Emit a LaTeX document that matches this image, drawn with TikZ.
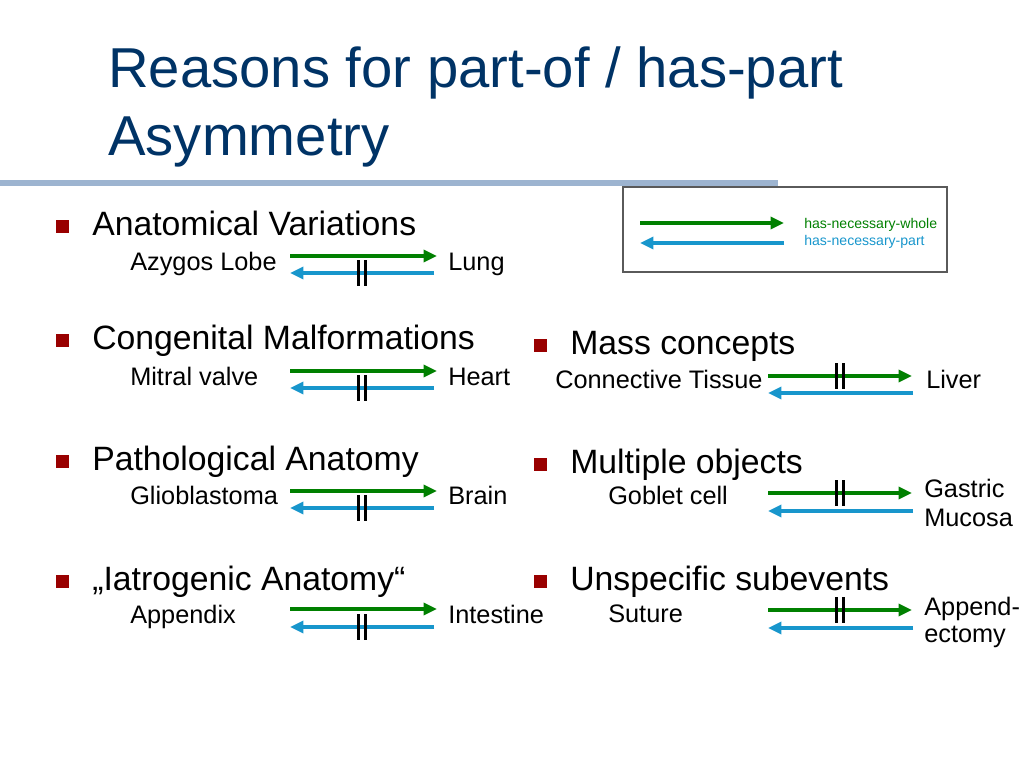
\documentclass[tikz,border=0pt]{standalone}
\usepackage{fontspec}
\setmainfont{Liberation Sans}
\usetikzlibrary{arrows.meta}

\definecolor{titleblue}{RGB}{0,51,102}
\definecolor{barblue}{RGB}{157,180,208}
\definecolor{bulletred}{RGB}{153,0,0}
\definecolor{wholegreen}{RGB}{0,128,0}
\definecolor{partblue}{RGB}{24,150,204}
\definecolor{keygray}{RGB}{90,90,90}

\begin{document}
\begin{tikzpicture}[
  x=0.025cm, y=-0.025cm,
  title/.style={anchor=base west, inner sep=0pt, text=titleblue,
    font=\fontsize{40}{48}\selectfont},
  head/.style={anchor=base west, inner sep=0pt, font=\fontsize{24}{29}\selectfont},
  item/.style={anchor=base west, inner sep=0pt, font=\fontsize{18}{22}\selectfont},
  key/.style={anchor=base west, inner sep=0pt, font=\fontsize{10}{12}\selectfont},
  bullet/.style={fill=bulletred, inner sep=0pt, minimum size=9.2pt, anchor=south west},
  legendbox/.style={draw=keygray, line width=0.9pt, minimum width=8.1cm, minimum height=2.125cm},
  whole/.style={draw=wholegreen, line width=2.6pt, -{Triangle[length=9.5pt,width=8.5pt]}},
  part/.style={whole, draw=partblue},
  cut/.style={inner sep=0pt, minimum width=7pt, minimum height=18pt,
    path picture={
      \draw[line width=2.4pt] ([xshift=1.2pt]path picture bounding box.north west)
        -- ([xshift=1.2pt]path picture bounding box.south west);
      \draw[line width=2.4pt] ([xshift=-1.2pt]path picture bounding box.north east)
        -- ([xshift=-1.2pt]path picture bounding box.south east);
    }}
]
\useasboundingbox (0,0) rectangle (1024,768);

% title
\node[title] (title1) at (108,88) {Reasons for part-of / has-part};
\node[title] (title2) at (108,155) {Asymmetry};
\draw[barblue, line width=4.3pt] (0,183) -- (778,183);

% legend
\node[legendbox] (legend) at (785,229.5) {};
\coordinate (key-gs) at (640,223);
\coordinate (key-ge) at (784,223);
\coordinate (key-bs) at (784,243);
\coordinate (key-be) at (640,243);
\draw[whole] (key-gs) -- (key-ge);
\draw[part] (key-bs) -- (key-be);
\node[key, text=wholegreen] (kwhole) at (804,228) {has-necessary-whole};
\node[key, text=partblue] (kpart) at (804,245) {has-necessary-part};

% left column
\node[bullet] (b1) at (56,233) {};
\node[head] (avar) at (92,235) {Anatomical Variations};
\node[item] (azygos) at (130,270) {Azygos Lobe};
\node[item] (lung) at (448,270) {Lung};
\coordinate (av-gs) at (290,256);
\coordinate (av-ge) at (437,256);
\coordinate (av-bs) at (434,273);
\coordinate (av-be) at (290,273);
\draw[whole] (av-gs) -- (av-ge);
\draw[part] (av-bs) -- (av-be);
\node[cut] (av-cut) at (362,273) {};

\node[bullet] (b2) at (56,347) {};
\node[head] (congen) at (92,349) {Congenital Malformations};
\node[item] (mitral) at (130,385) {Mitral valve};
\node[item] (heart) at (448,385) {Heart};
\coordinate (cm-gs) at (290,371);
\coordinate (cm-ge) at (437,371);
\coordinate (cm-bs) at (434,388);
\coordinate (cm-be) at (290,388);
\draw[whole] (cm-gs) -- (cm-ge);
\draw[part] (cm-bs) -- (cm-be);
\node[cut] (cm-cut) at (362,388) {};

\node[bullet] (b3) at (56,468) {};
\node[head] (patho) at (92,470) {Pathological Anatomy};
\node[item] (glio) at (130,504) {Glioblastoma};
\node[item] (brain) at (448,504) {Brain};
\coordinate (pa-gs) at (290,491);
\coordinate (pa-ge) at (437,491);
\coordinate (pa-bs) at (434,508);
\coordinate (pa-be) at (290,508);
\draw[whole] (pa-gs) -- (pa-ge);
\draw[part] (pa-bs) -- (pa-be);
\node[cut] (pa-cut) at (362,508) {};

\node[bullet] (b4) at (56,588) {};
\node[head] (iatro) at (92,590) {„Iatrogenic Anatomy“};
\node[item] (appendix) at (130,623) {Appendix};
\node[item] (intestine) at (448,623) {Intestine};
\coordinate (ia-gs) at (290,609);
\coordinate (ia-ge) at (437,609);
\coordinate (ia-bs) at (434,627);
\coordinate (ia-be) at (290,627);
\draw[whole] (ia-gs) -- (ia-ge);
\draw[part] (ia-bs) -- (ia-be);
\node[cut] (ia-cut) at (362,627) {};

% right column
\node[bullet] (b5) at (534,352) {};
\node[head] (mass) at (570,354) {Mass concepts};
\node[item] (connective) at (555,388) {Connective Tissue};
\node[item] (liver) at (926,388) {Liver};
\coordinate (mc-gs) at (768,376);
\coordinate (mc-ge) at (912,376);
\coordinate (mc-bs) at (913,393);
\coordinate (mc-be) at (768,393);
\draw[whole] (mc-gs) -- (mc-ge);
\draw[part] (mc-bs) -- (mc-be);
\node[cut] (mc-cut) at (840,376) {};

\node[bullet] (b6) at (534,471) {};
\node[head] (multiple) at (570,473) {Multiple objects};
\node[item] (goblet) at (608,504) {Goblet cell};
\node[item] (gastric) at (924,497) {Gastric};
\node[item] (mucosa) at (924,526) {Mucosa};
\coordinate (mo-gs) at (768,493);
\coordinate (mo-ge) at (912,493);
\coordinate (mo-bs) at (913,511);
\coordinate (mo-be) at (768,511);
\draw[whole] (mo-gs) -- (mo-ge);
\draw[part] (mo-bs) -- (mo-be);
\node[cut] (mo-cut) at (840,493) {};

\node[bullet] (b7) at (534,588) {};
\node[head] (unspec) at (570,590) {Unspecific subevents};
\node[item] (suture) at (608,622) {Suture};
\node[item] (append) at (924,615) {Append-};
\node[item] (ectomy) at (924,642) {ectomy};
\coordinate (us-gs) at (768,610);
\coordinate (us-ge) at (912,610);
\coordinate (us-bs) at (913,628);
\coordinate (us-be) at (768,628);
\draw[whole] (us-gs) -- (us-ge);
\draw[part] (us-bs) -- (us-be);
\node[cut] (us-cut) at (840,610) {};

\end{tikzpicture}
\end{document}
